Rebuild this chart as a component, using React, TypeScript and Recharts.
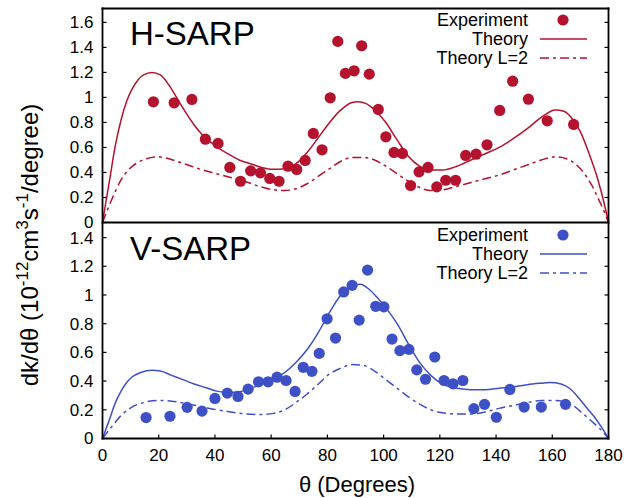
import { ComposedChart, Line, Scatter, XAxis, YAxis } from 'recharts';

const RED = '#b5122e';
const BLUE = '#3e50c6';
const FONT = '"Liberation Sans", Arial, Helvetica, sans-serif';

const thetaTicks = [0, 20, 40, 60, 80, 100, 120, 140, 160, 180];
const hTicks = [0, 0.2, 0.4, 0.6, 0.8, 1, 1.2, 1.4, 1.6];
const vTicks = [0, 0.2, 0.4, 0.6, 0.8, 1, 1.2, 1.4];

// H-SARP
const hExpTheta = [18.1, 25.5, 31.8, 36.6, 41.1, 45.3, 49.1, 52.7, 56.2, 59.5, 62.8, 66.0, 69.1, 72.1, 75.0, 78.1, 81.0, 83.7, 86.4, 89.5, 92.2, 94.9, 98.1, 100.8, 103.7, 106.7, 109.6, 112.6, 115.8, 118.9, 122.1, 125.6, 129.2, 132.9, 136.8, 141.3, 145.9, 151.5, 158.2, 167.6];
const hExpValue = [0.965, 0.957, 0.984, 0.666, 0.632, 0.44, 0.33, 0.413, 0.397, 0.352, 0.33, 0.45, 0.424, 0.496, 0.712, 0.581, 0.997, 1.448, 1.192, 1.213, 1.413, 1.186, 0.904, 0.685, 0.56, 0.552, 0.296, 0.405, 0.44, 0.285, 0.338, 0.338, 0.536, 0.546, 0.621, 0.896, 1.13, 0.986, 0.813, 0.784];
const hTheoryTheta = [0, 2.6, 4.6, 6.6, 8.6, 10.6, 12.6, 14.6, 17.6, 20.6, 23.6, 26.6, 29.6, 32.6, 35.6, 38.6, 41.6, 44.6, 48.6, 52.6, 56.6, 60.8, 64.8, 68.8, 72.8, 76.8, 80.8, 84.8, 88.8, 90.8, 93.8, 96.8, 100.8, 104.8, 108.8, 112.8, 116.8, 120.8, 126.1, 131.1, 136.1, 141.1, 146.1, 151.1, 156.1, 161.1, 164.1, 167.1, 170.1, 173.1, 176.0, 178.6, 180];
const hTheory = [0, 0.35, 0.62, 0.82, 0.97, 1.07, 1.14, 1.18, 1.2, 1.18, 1.1, 0.99, 0.88, 0.78, 0.7, 0.64, 0.59, 0.55, 0.5, 0.47, 0.44, 0.425, 0.43, 0.47, 0.56, 0.68, 0.8, 0.9, 0.96, 0.965, 0.95, 0.9, 0.8, 0.66, 0.53, 0.45, 0.42, 0.42, 0.45, 0.5, 0.55, 0.6, 0.67, 0.75, 0.84, 0.9, 0.89, 0.83, 0.72, 0.55, 0.36, 0.14, 0];
const hL2Theta = [0, 3.6, 6.6, 9.6, 12.6, 15.6, 19.6, 23.6, 27.6, 31.6, 35.6, 40.6, 45.6, 50.6, 55.6, 60.8, 64.8, 68.8, 72.8, 76.8, 80.8, 84.8, 88.8, 92.8, 96.8, 100.8, 104.8, 108.8, 112.8, 116.8, 120.8, 126.1, 131.1, 136.1, 141.1, 146.1, 151.1, 156.1, 161.1, 165.1, 168.1, 171.1, 174.0, 176.8, 178.6, 180];
const hL2 = [0, 0.2, 0.34, 0.43, 0.48, 0.51, 0.525, 0.51, 0.48, 0.45, 0.42, 0.39, 0.36, 0.33, 0.29, 0.262, 0.255, 0.27, 0.31, 0.37, 0.43, 0.49, 0.52, 0.52, 0.5, 0.45, 0.39, 0.33, 0.28, 0.255, 0.26, 0.29, 0.32, 0.35, 0.38, 0.42, 0.46, 0.5, 0.525, 0.51, 0.47, 0.4, 0.3, 0.17, 0.08, 0];

// V-SARP
const vExpTheta = [15.5, 24.0, 30.1, 35.4, 40.0, 44.4, 48.2, 51.8, 55.5, 58.9, 62.1, 65.3, 68.5, 71.4, 74.5, 77.1, 79.9, 82.9, 85.8, 88.8, 91.3, 94.3, 97.2, 100.1, 103.0, 105.8, 109.0, 111.8, 114.9, 118.2, 121.5, 124.7, 128.2, 132.1, 135.9, 140.1, 144.9, 150.0, 156.1, 164.7];
const vExpValue = [0.146, 0.155, 0.217, 0.191, 0.279, 0.316, 0.293, 0.344, 0.395, 0.395, 0.427, 0.404, 0.328, 0.496, 0.468, 0.593, 0.834, 0.7, 1.021, 1.067, 0.825, 1.173, 0.921, 0.917, 0.693, 0.612, 0.621, 0.478, 0.413, 0.568, 0.404, 0.381, 0.404, 0.208, 0.238, 0.148, 0.342, 0.219, 0.219, 0.238];
const vTheoryTheta = [0, 2.6, 4.6, 6.6, 8.6, 10.6, 13.6, 17.6, 20.6, 24.6, 28.6, 32.6, 36.6, 40.6, 44.6, 48.6, 52.6, 56.6, 60.8, 64.8, 68.8, 72.8, 76.8, 80.8, 84.8, 88.8, 91.8, 94.8, 97.8, 100.8, 104.8, 108.8, 112.8, 116.8, 120.8, 126.1, 131.1, 136.1, 141.1, 146.1, 151.1, 156.1, 159.1, 163.1, 166.1, 169.1, 172.0, 175.0, 177.8, 180];
const vTheory = [0, 0.14, 0.25, 0.33, 0.39, 0.43, 0.46, 0.475, 0.47, 0.44, 0.41, 0.38, 0.355, 0.33, 0.32, 0.325, 0.35, 0.38, 0.415, 0.46, 0.53, 0.62, 0.74, 0.88, 1.0, 1.07, 1.075, 1.04, 0.98, 0.91, 0.8, 0.66, 0.53, 0.44, 0.38, 0.35, 0.34, 0.34, 0.35, 0.36, 0.375, 0.385, 0.39, 0.38, 0.35, 0.29, 0.22, 0.15, 0.07, 0];
const vL2Theta = [0, 3.6, 6.6, 10.6, 14.6, 19.6, 24.6, 30.6, 35.6, 40.6, 45.6, 50.6, 55.6, 60.8, 64.8, 68.8, 72.8, 76.8, 80.8, 84.8, 88.8, 92.8, 96.8, 100.8, 104.8, 108.8, 112.8, 116.8, 120.8, 126.1, 131.1, 136.1, 141.1, 146.1, 151.1, 156.1, 161.1, 165.1, 168.1, 171.1, 174.0, 176.8, 180];
const vL2 = [0, 0.09, 0.16, 0.22, 0.25, 0.265, 0.26, 0.24, 0.22, 0.2, 0.185, 0.172, 0.167, 0.175, 0.2, 0.25, 0.31, 0.38, 0.45, 0.49, 0.515, 0.51, 0.47, 0.41, 0.35, 0.29, 0.24, 0.2, 0.18, 0.17, 0.17, 0.185, 0.21, 0.23, 0.25, 0.265, 0.265, 0.25, 0.22, 0.17, 0.12, 0.07, 0];

const zip = (xs: number[], ys: number[]) => xs.map((x, i) => ({ x, y: ys[i] }));

const DASHDOT = '9 4 3 4';
const TICK_GAP = 9; // axis line to tick label
const TICK_IN = 4; // inward tick length

// plot frame (two stacked panels sharing the theta axis)
const PLOT_L = 102.5;
const PLOT_R = 608.5;
const TOP_T = 8.5;
const MID = 222.5;
const BOT_B = 438.5;
const FRAME_W = 1.8;

const YTick = (p: any) => {
  const ax = p.x + TICK_GAP;
  return (
    <g>
      <line x1={ax} x2={ax + TICK_IN} y1={p.y} y2={p.y} stroke="#000" strokeWidth={1.2} />
      <line x1={PLOT_R - TICK_IN} x2={PLOT_R} y1={p.y} y2={p.y} stroke="#000" strokeWidth={1.2} />
      <text x={p.x} y={p.y} dy="0.35em" textAnchor="end" fill="#000" fontSize={17} fontFamily={FONT}>
        {p.payload.value}
      </text>
    </g>
  );
};

const XTick = (p: any) => {
  const ay = p.y - TICK_GAP;
  return (
    <g>
      <line x1={p.x} x2={p.x} y1={ay} y2={ay - TICK_IN} stroke="#000" strokeWidth={1.2} />
      <text x={p.x} y={p.y} dy="0.8em" textAnchor="middle" fill="#000" fontSize={17} fontFamily={FONT}>
        {p.payload.value}
      </text>
    </g>
  );
};

type PanelProps = {
  exp: { x: number; y: number }[];
  theory: { x: number; y: number }[];
  l2: { x: number; y: number }[];
  color: string;
  yMax: number;
  yTicks: number[];
  showX: boolean;
  height: number;
  margin: { top: number; right: number; bottom: number; left: number };
};

function Panel({ exp, theory, l2, color, yMax, yTicks, showX, height, margin }: PanelProps) {
  return (
    <ComposedChart width={637} height={height} margin={margin}>
      <XAxis
        xAxisId="b"
        type="number"
        dataKey="x"
        domain={[0, 180]}
        ticks={thetaTicks}
        interval={0}
        allowDataOverflow
        hide={!showX}
        height={30}
        tickLine={false}
        tickSize={6}
        tickMargin={3}
        axisLine={false}
        tick={XTick}
      />
      <YAxis
        yAxisId="l"
        type="number"
        domain={[0, yMax]}
        ticks={yTicks}
        interval={0}
        allowDataOverflow
        width={60}
        tickLine={false}
        tickSize={6}
        tickMargin={3}
        axisLine={false}
        tick={YTick}
      />
      <Line xAxisId="b" yAxisId="l" data={l2} dataKey="y" type="monotone" stroke={color} strokeWidth={1.5}
        strokeDasharray={DASHDOT} dot={false} isAnimationActive={false} />
      <Line xAxisId="b" yAxisId="l" data={theory} dataKey="y" type="monotone" stroke={color} strokeWidth={1.5}
        dot={false} isAnimationActive={false} />
      <Scatter
        xAxisId="b"
        yAxisId="l"
        data={exp}
        dataKey="y"
        fill={color}
        shape={(p: any) => <circle cx={p.cx} cy={p.cy} r={5.6} fill={color} />}
        isAnimationActive={false}
      />
    </ComposedChart>
  );
}

function LegendBox({ color, top, title }: { color: string; top: number; title: string }) {
  const rows = ['Experiment', 'Theory', 'Theory L=2'];
  return (
    <g fontFamily={FONT} fontSize={18} fill="#000">
      <text x={130} y={top + 25} fontSize={33}>{title}</text>
      {rows.map((r, i) => (
        <text key={r} x={528} y={top + 6 + i * 19} textAnchor="end">{r}</text>
      ))}
      <circle cx={563} cy={top} r={5.6} fill={color} />
      <line x1={540} x2={587} y1={top + 19} y2={top + 19} stroke={color} strokeWidth={1.5} />
      <line x1={540} x2={587} y1={top + 38} y2={top + 38} stroke={color} strokeWidth={1.5} strokeDasharray={DASHDOT} />
    </g>
  );
}

export default function App() {
  return (
    <div style={{ position: 'absolute', left: 0, top: 0, width: 637, height: 498, background: '#fff' }}>
      <div style={{ position: 'absolute', left: 0, top: 0 }}>
        <Panel
          exp={zip(hExpTheta, hExpValue)}
          theory={zip(hTheoryTheta, hTheory)}
          l2={zip(hL2Theta, hL2)}
          color={RED}
          yMax={1.711}
          yTicks={hTicks}
          showX={false}
          height={230}
          margin={{ top: 8.5, right: 28.5, bottom: 7.5, left: 42.5 }}
        />
      </div>
      <div style={{ position: 'absolute', left: 0, top: 222 }}>
        <Panel
          exp={zip(vExpTheta, vExpValue)}
          theory={zip(vTheoryTheta, vTheory)}
          l2={zip(vL2Theta, vL2)}
          color={BLUE}
          yMax={1.505}
          yTicks={vTicks}
          showX
          height={276}
          margin={{ top: 0.5, right: 28.5, bottom: 29.5, left: 42.5 }}
        />
      </div>
      <svg width={637} height={498} style={{ position: 'absolute', left: 0, top: 0, pointerEvents: 'none' }}>
        <g stroke="#000" strokeWidth={FRAME_W} strokeLinecap="square">
          <line x1={PLOT_L} x2={PLOT_R} y1={TOP_T} y2={TOP_T} />
          <line x1={PLOT_L} x2={PLOT_R} y1={MID} y2={MID} />
          <line x1={PLOT_L} x2={PLOT_R} y1={BOT_B} y2={BOT_B} />
          <line x1={PLOT_L} x2={PLOT_L} y1={TOP_T} y2={BOT_B} />
          <line x1={PLOT_R} x2={PLOT_R} y1={TOP_T} y2={BOT_B} />
        </g>
        <LegendBox color={RED} top={20} title="H-SARP" />
        <LegendBox color={BLUE} top={235} title="V-SARP" />
        <text x={357} y={492} textAnchor="middle" fontFamily={FONT} fontSize={22} fill="#000">θ (Degrees)</text>
        <text
          transform="translate(38,245) rotate(-90)"
          textAnchor="middle"
          fontFamily={FONT}
          fontSize={24}
          fill="#000"
        >
          dk/dθ (10<tspan dy={-10} fontSize={17}>-12</tspan>
          <tspan dy={10}>cm</tspan>
          <tspan dy={-10} fontSize={17}>3</tspan>
          <tspan dy={10}>s</tspan>
          <tspan dy={-10} fontSize={17}>-1</tspan>
          <tspan dy={10}>/degree)</tspan>
        </text>
      </svg>
    </div>
  );
}
